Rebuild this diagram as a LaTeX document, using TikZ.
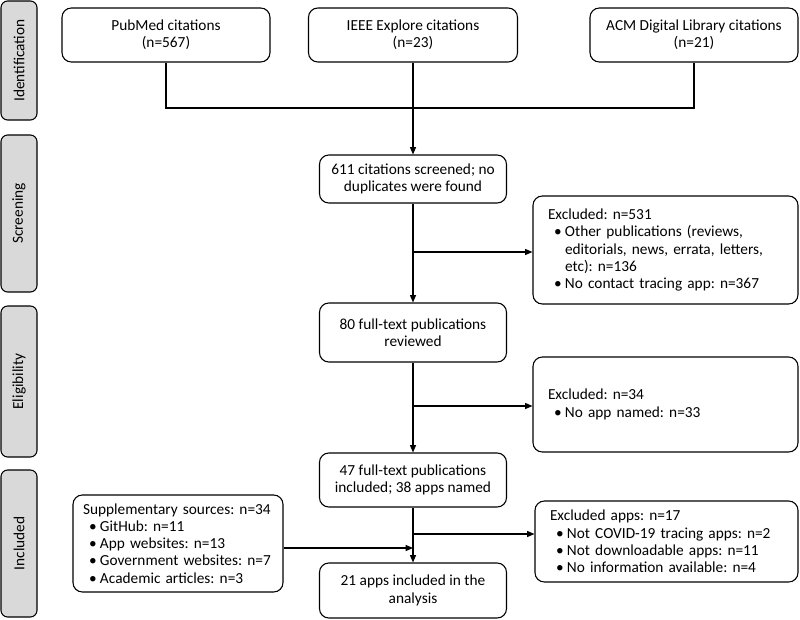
\documentclass[tikz,border=0pt]{standalone}
\usepackage{fontspec}
\setmainfont{Carlito}
\usetikzlibrary{arrows.meta}
\frenchspacing
\newcommand{\bitem}[1]{\hspace*{4.5pt}\makebox[8.25pt][l]{\textbullet}#1}
\newcommand{\bcont}[1]{\hspace*{12.75pt}#1}
\begin{document}
\begin{tikzpicture}[x=0.75pt,y=-0.75pt,
  every node/.style={font=\fontsize{11.5}{12.9}\selectfont},
  box/.style={draw, line width=0.8pt, rounded corners=7pt, align=center, inner sep=0pt},
  listbox/.style={draw, line width=0.8pt, rounded corners=7pt, align=left, inner xsep=11.25pt, inner ysep=0pt},
  stagebox/.style={draw, line width=0.8pt, rounded corners=5pt, fill=black!15, rotate=90, inner sep=0pt, minimum height=36*0.75pt},
  conn/.style={line width=0.8pt},
  arr/.style={conn, -{Triangle[length=5.5pt,width=4.5pt]}}]
\useasboundingbox (0,0) rectangle (800,619);
% stages
\node[stagebox, minimum width=119*0.75pt] (s1) at (19,60.5) {Identification};
\node[stagebox, minimum width=157*0.75pt] (s2) at (19,213.5) {Screening};
\node[stagebox, minimum width=151*0.75pt] (s3) at (19,381.5) {Eligibility};
\node[stagebox, minimum width=147*0.75pt] (s4) at (19,543.5) {Included};
% top boxes
\node[box, minimum width=208*0.75pt, minimum height=54*0.75pt] (pub) at (166,35) {PubMed citations\\(n=567)};
\node[box, minimum width=209*0.75pt, minimum height=54*0.75pt] (ieee) at (413,35) {IEEE Explore citations\\(n=23)};
\node[box, minimum width=208*0.75pt, minimum height=54*0.75pt] (acm) at (694,35) {ACM Digital Library citations\\(n=21)};
% central column
\node[box, minimum width=187*0.75pt, minimum height=48*0.75pt] (scr) at (413,179) {611 citations screened; no\\duplicates were found};
\node[box, minimum width=187*0.75pt, minimum height=59*0.75pt] (full) at (413,332.5) {80 full-text publications\\reviewed};
\node[box, minimum width=187*0.75pt, minimum height=54*0.75pt] (incl) at (413,480) {47 full-text publications\\included; 38 apps named};
\node[box, minimum width=187*0.75pt, minimum height=55*0.75pt] (final) at (413,590.5) {21 apps included in the\\analysis};
% side boxes
\node[listbox, text width=235*0.75pt, minimum height=108*0.75pt] (exc1) at (665.5,250) {Excluded: n=531\\\bitem{Other publications (reviews,}\\\bcont{editorials, news, errata, letters,}\\\bcont{etc): n=136}\\\bitem{No contact tracing app: n=367}};
\node[listbox, text width=235*0.75pt, minimum height=95*0.75pt] (exc2) at (665.5,404.5) {Excluded: n=34\\\bitem{No app named: n=33}};
\node[listbox, text width=233*0.75pt, minimum height=81*0.75pt] (exc3) at (666.5,541.5) {Excluded apps: n=17\\\bitem{Not COVID-19 tracing apps: n=2}\\\bitem{Not downloadable apps: n=11}\\\bitem{No information available: n=4}};
\node[listbox, inner xsep=10*0.75pt, text width=190*0.75pt, minimum height=97*0.75pt] (supp) at (178,543.5) {Supplementary sources: n=34\\\bitem{GitHub: n=11}\\\bitem{App websites: n=13}\\\bitem{Government websites: n=7}\\\bitem{Academic articles: n=3}};
% connectors
\coordinate (j) at (413,108);
\coordinate (b1) at (413,252);
\coordinate (b2) at (413,406);
\coordinate (b3) at (413,534);
\coordinate (b4) at (413,548);
\draw[conn] (pub.south) |- (j) -| (acm.south);
\draw[arr] (ieee.south) -- (scr.north);
\draw[arr] (scr.south) -- (full.north);
\draw[arr] (b1) -- (b1 -| exc1.west);
\draw[arr] (full.south) -- (incl.north);
\draw[arr] (b2) -- (b2 -| exc2.west);
\draw[arr] (incl.south) -- (final.north);
\draw[arr] (b3) -- (b3 -| exc3.west);
\draw[arr] (supp.east |- b4) -- (b4);
\end{tikzpicture}
\end{document}
